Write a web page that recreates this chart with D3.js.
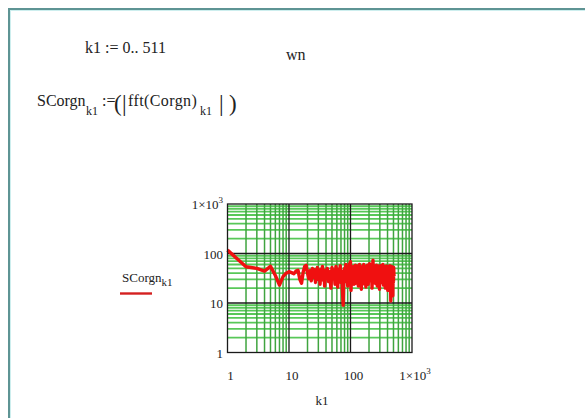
<!DOCTYPE html>
<html>
<head>
<meta charset="utf-8">
<script src="https://cdn.jsdelivr.net/npm/d3@7"></script>
<style>
  body { margin: 0; background: #fff; }
  svg { display: block; }
  text { font-family: "Liberation Serif", "DejaVu Serif", serif; fill: #222; }
</style>
</head>
<body>
<div id="chart"></div>
<script>
// harmonic index k1 (log axis, k1 = 0 is not drawn)
const k1 = [
  1, 2, 3, 4, 5, 6, 7, 8, 9, 10, 11, 12, 13, 14, 15, 16, 17, 18, 19, 20,
  21, 22, 23, 24, 25, 26, 27, 28, 29, 30, 31, 32, 33, 34, 35, 36, 37, 38, 39, 40,
  42, 44, 46, 48, 50, 52, 54, 56, 58, 60, 62, 64, 66, 68, 70, 72, 74, 76, 78, 80,
  82, 84, 86, 88, 90, 92, 94, 96, 98, 100,
  102, 104, 106, 108, 110, 112, 114, 116, 118, 120, 122, 124, 126, 128, 130,
  132, 134, 136, 138, 140, 142, 144, 146, 148, 150, 152, 154, 156, 158, 160,
  162, 164, 166, 168, 170, 172, 174, 176, 178, 180, 182, 184, 186, 188, 190,
  192, 194, 196, 198, 200,
  204, 208, 212, 216, 220, 224, 228, 232, 236, 240, 244, 248, 252, 256, 260,
  264, 268, 272, 276, 280, 284, 288, 292, 296, 300, 304, 308, 312, 316, 320,
  324, 328, 332, 336, 340, 344, 348, 352, 356, 360, 364, 368, 372, 376, 380,
  384, 388, 392, 396, 400, 404, 408, 412, 416, 420, 424, 428, 432, 436, 440,
  444, 448, 452, 456, 460, 464, 468, 472, 476, 480, 484, 488, 492, 496, 500,
  504, 508, 511
];

// |fft(Corgn)|
const sCorgn = [
  117, 54, 50, 44, 55, 36, 23, 34, 40, 43, 41, 39, 44, 46, 30, 25, 42, 55, 58, 40,
  31, 45, 28, 50, 33, 47, 26, 42, 52, 30, 44, 24, 48, 36, 55, 29, 40, 22, 46, 34,
  50, 27, 43, 20, 52, 31, 46, 24, 55, 35, 21, 48, 30, 57, 26, 44, 18, 9, 38, 50,
  27, 60, 33, 47, 22, 53, 36, 62, 28, 68,
  18, 45, 26, 52, 30, 55, 24, 48, 33, 58, 25, 49, 38, 56, 28,
  50, 22, 44, 31, 60, 27, 52, 35, 46, 19, 54, 30, 47, 36, 57,
  26, 60, 32, 42, 24, 55, 29, 49, 21, 53, 33, 47, 26, 58, 35,
  44, 24, 57, 31, 50,
  62, 28, 45, 33, 54, 20, 48, 73, 34, 57, 27, 52, 25, 48, 31,
  58, 36, 22, 53, 30, 44, 56, 36, 19, 50, 28, 57, 32, 55, 26,
  46, 38, 35, 60, 29, 23, 51, 42, 32, 54, 25, 20, 47, 37, 28,
  56, 30, 33, 49, 44, 18, 40, 52, 29, 55, 48, 37, 31, 57, 22,
  45, 34, 11, 48, 40, 30, 55, 26, 24, 50, 42, 14, 46, 33, 27,
  52, 38, 35
];

const xTicks = [1, 10, 100, 1000];
const yTicks = [1, 10, 100, 1000];

const width = 585;
const height = 418;

const plot = {left: 227.5, right: 412, top: 204, bottom: 352.5};

const svg = d3.select('#chart')
  .append('svg')
  .attr('width', width)
  .attr('height', height);

// worksheet frame
svg.append('line')
  .attr('x1', 9).attr('y1', 9).attr('x2', 9).attr('y2', height)
  .attr('stroke', '#5e9494').attr('stroke-width', 2);
svg.append('line')
  .attr('x1', 8).attr('y1', 9).attr('x2', width).attr('y2', 9)
  .attr('stroke', '#5e9494').attr('stroke-width', 2);
svg.append('line')
  .attr('x1', 10.5).attr('y1', 10).attr('x2', 10.5).attr('y2', height)
  .attr('stroke', '#cdeeee').attr('stroke-width', 1);
svg.append('line')
  .attr('x1', 10).attr('y1', 10.5).attr('x2', width).attr('y2', 10.5)
  .attr('stroke', '#cdeeee').attr('stroke-width', 1);

// worksheet formulas
const math = svg.append('g').style('font-size', '16px');

math.append('text').attr('x', 85).attr('y', 53).text('k1 := 0.. 511');
math.append('text').attr('x', 286).attr('y', 60).text('wn');

math.append('text').attr('x', 37).attr('y', 106).text('SCorgn');
math.append('text').attr('x', 86).attr('y', 115).style('font-size', '12px').text('k1');
math.append('text').attr('x', 102).attr('y', 106).text(':=');
math.append('text').attr('x', 114).attr('y', 111).style('font-size', '23px').text('(');
math.append('text').attr('x', 122).attr('y', 111).style('font-size', '23px').text('|');
math.append('text').attr('x', 128).attr('y', 106).style('letter-spacing', '0.4px').text('fft(Corgn)');
math.append('text').attr('x', 200).attr('y', 115).style('font-size', '12px').text('k1');
math.append('text').attr('x', 219).attr('y', 111).style('font-size', '23px').text('|');
math.append('text').attr('x', 229).attr('y', 111).style('font-size', '23px').text(')');

// scales
const x = d3.scaleLog().domain([1, 1000]).range([plot.left, plot.right]);
const y = d3.scaleLog().domain([1, 1000]).range([plot.bottom, plot.top]);

const minor = [];
[1, 10, 100].forEach(d => { for (let m = 2; m <= 9; m++) minor.push(d * m); });
const major = [10, 100];

const grid = svg.append('g').attr('class', 'grid');

grid.selectAll('line.hminor')
  .data(minor)
  .enter()
  .append('line')
  .attr('class', 'hminor')
  .attr('x1', plot.left).attr('x2', plot.right)
  .attr('y1', d => y(d)).attr('y2', d => y(d))
  .attr('stroke', '#58c858').attr('stroke-width', 1.8);

grid.selectAll('line.vminor')
  .data(minor)
  .enter()
  .append('line')
  .attr('class', 'vminor')
  .attr('y1', plot.top).attr('y2', plot.bottom)
  .attr('x1', d => x(d)).attr('x2', d => x(d))
  .attr('stroke', '#3fa43f').attr('stroke-width', 1.5);

grid.selectAll('line.hmajor')
  .data(major)
  .enter()
  .append('line')
  .attr('class', 'hmajor')
  .attr('x1', plot.left).attr('x2', plot.right)
  .attr('y1', d => y(d)).attr('y2', d => y(d))
  .attr('stroke', '#1a1a1a').attr('stroke-width', 1.3);

grid.selectAll('line.vmajor')
  .data(major)
  .enter()
  .append('line')
  .attr('class', 'vmajor')
  .attr('y1', plot.top).attr('y2', plot.bottom)
  .attr('x1', d => x(d)).attr('x2', d => x(d))
  .attr('stroke', '#1a1a1a').attr('stroke-width', 1.3);

// the trace
const points = k1.map((k, i) => ({k: k, v: sCorgn[i]}));

svg.append('path')
  .datum(points)
  .attr('fill', 'none')
  .attr('stroke', '#f01010')
  .attr('stroke-width', 3.4)
  .attr('stroke-linejoin', 'round')
  .attr('d', d3.line().x(d => x(d.k)).y(d => y(d.v)));

svg.append('rect')
  .attr('x', plot.left).attr('y', plot.top)
  .attr('width', plot.right - plot.left)
  .attr('height', plot.bottom - plot.top)
  .attr('fill', 'none')
  .attr('stroke', '#1a1a1a')
  .attr('stroke-width', 1.3);

// tick labels
function tickLabel(sel, d) {
  if (d === 1000) {
    sel.append('tspan').text('1×10');
    sel.append('tspan').attr('dy', -6).style('font-size', '9px').text('3');
  } else {
    sel.text(d);
  }
}

const axisFont = '13px';

svg.append('g')
  .selectAll('text')
  .data(yTicks)
  .enter()
  .append('text')
  .attr('x', 223)
  .attr('y', d => y(d) + 5)
  .attr('text-anchor', 'end')
  .style('font-size', axisFont)
  .each(function(d) { tickLabel(d3.select(this), d); });

svg.append('g')
  .selectAll('text')
  .data(xTicks)
  .enter()
  .append('text')
  .attr('x', d => x(d) + 3)
  .attr('y', 380)
  .attr('text-anchor', 'middle')
  .style('font-size', axisFont)
  .each(function(d) { tickLabel(d3.select(this), d); });

svg.append('text')
  .attr('x', 322)
  .attr('y', 405)
  .attr('text-anchor', 'middle')
  .style('font-size', axisFont)
  .text('k1');

// legend
const legend = svg.append('text').attr('x', 122).attr('y', 282).style('font-size', axisFont);
legend.append('tspan').text('SCorgn');
legend.append('tspan').attr('dy', 4).style('font-size', '11px').text('k1');

svg.append('line')
  .attr('x1', 120).attr('x2', 152)
  .attr('y1', 293.5).attr('y2', 293.5)
  .attr('stroke', '#d42020')
  .attr('stroke-width', 2.4);
</script>
</body>
</html>
